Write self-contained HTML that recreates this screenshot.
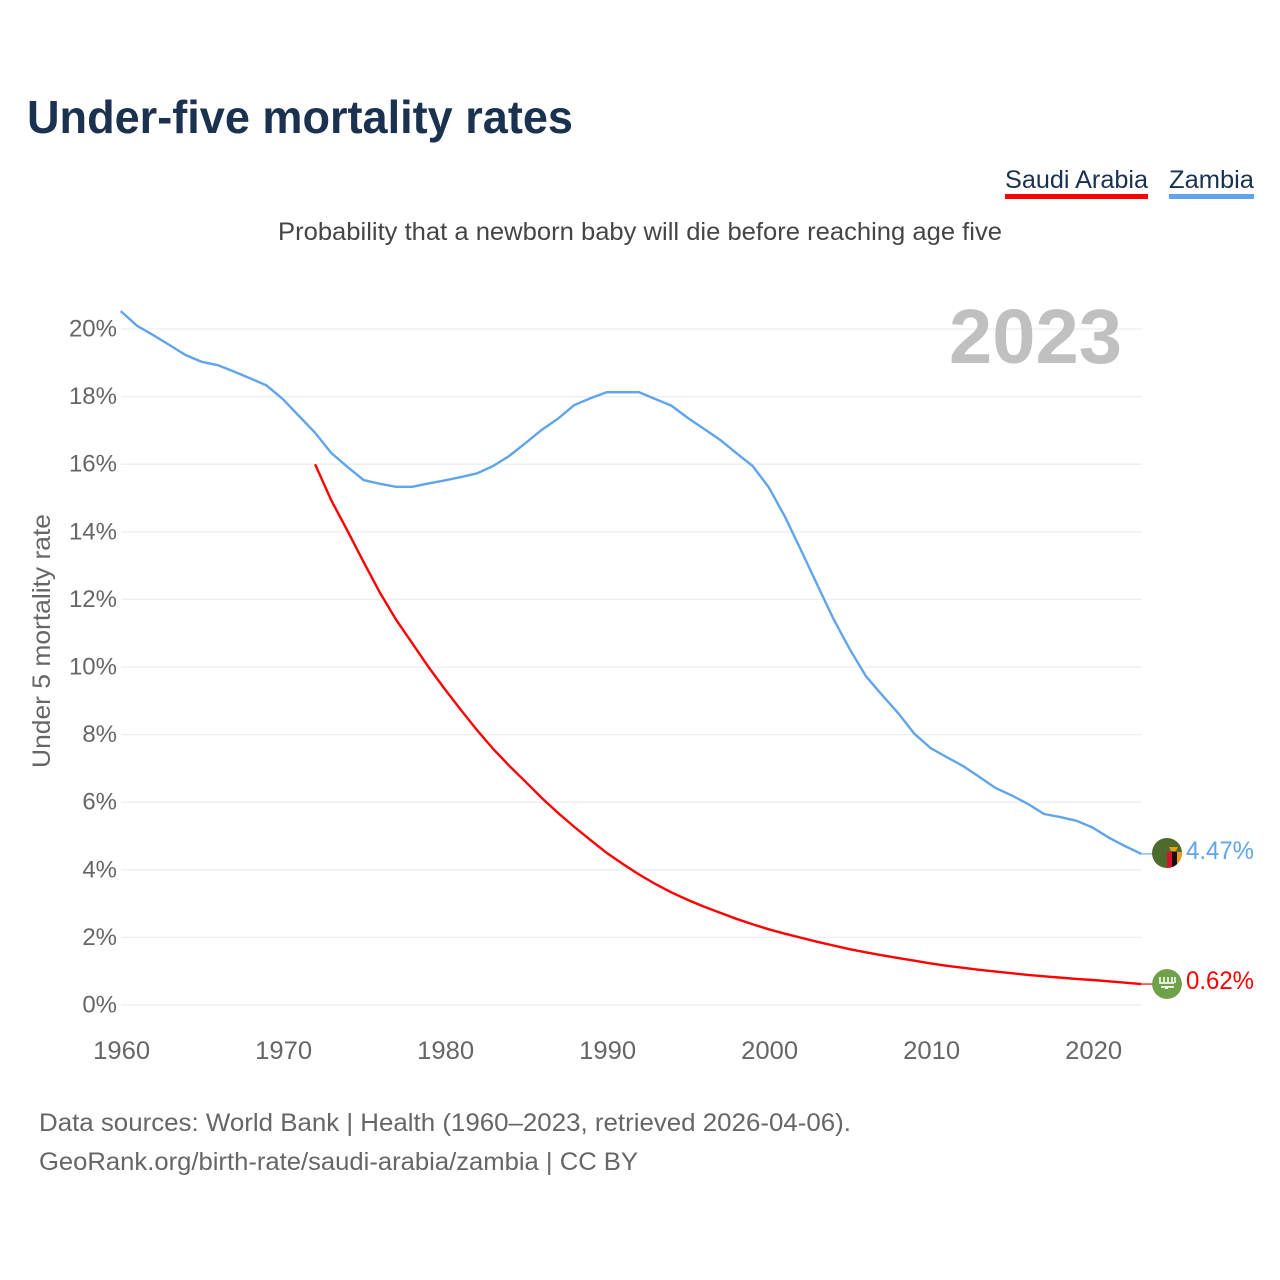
<!DOCTYPE html>
<html lang="en">
<head>
<meta charset="utf-8">
<title>Under-five mortality rates</title>
<style>
html,body{margin:0;padding:0;background:#fff;width:1280px;height:1280px;overflow:hidden}
svg{display:block}
text{font-family:"Liberation Sans",sans-serif}
</style>
</head>
<body>
<svg id="chart" width="1280" height="1280" viewBox="0 0 1280 1280" xmlns="http://www.w3.org/2000/svg">
  <rect width="1280" height="1280" fill="#fff"/>
  <text x="27" y="133" font-size="46" font-weight="700" fill="#1a3150" textLength="546" lengthAdjust="spacingAndGlyphs">Under-five mortality rates</text>

  <g>
    <text x="1005" y="188" font-size="25" fill="#1a3150" textLength="143" lengthAdjust="spacingAndGlyphs">Saudi Arabia</text>
    <rect x="1005" y="194" width="143" height="5" fill="#ff0000"/>
  </g>
  <g>
    <text x="1169" y="188" font-size="25" fill="#1a3150" textLength="85" lengthAdjust="spacingAndGlyphs">Zambia</text>
    <rect x="1169" y="194" width="85" height="5" fill="#60a5ec"/>
  </g>

  <text x="278" y="240" font-size="25" fill="#454545" textLength="724" lengthAdjust="spacingAndGlyphs">Probability that a newborn baby will die before reaching age five</text>
  <text transform="translate(50,768) rotate(-90)" x="0" y="0" font-size="25" fill="#666666" textLength="254" lengthAdjust="spacingAndGlyphs">Under 5 mortality rate</text>

  <g id="grid"></g>
  <g id="yticks"></g>
  <g id="xticks"></g>

  <text x="949" y="363" font-size="77" font-weight="700" fill="#c0c0c0" textLength="173" lengthAdjust="spacingAndGlyphs">2023</text>

  <g id="series"></g>

  <defs>
    <clipPath id="zambia-clip"><circle cx="1167" cy="853" r="15"/></clipPath>
    <clipPath id="saudi-clip"><circle cx="1167" cy="984" r="15"/></clipPath>
  </defs>

  <g clip-path="url(#zambia-clip)">
    <rect x="1152" y="838" width="30" height="30" fill="#4c6b2c"/>
    <rect x="1167" y="852" width="5" height="16" fill="#d8112e"/>
    <rect x="1172" y="852" width="5" height="16" fill="#111111"/>
    <rect x="1177" y="852" width="5" height="16" fill="#f19a1c"/>
    <path d="M1169 847h9l-2 4h-5z" fill="#f19a1c"/>
  </g>
  <g>
    <circle cx="1167" cy="984" r="15" fill="#6fa14a" clip-path="url(#saudi-clip)"/>
    <path d="M1160 977v6h14M1164 977v5M1168 977v5M1172 977v5M1175 977v6" fill="none" stroke="#f2f6ec" stroke-width="1.7"/>
    <rect x="1161" y="986" width="13" height="1.8" fill="#f2f6ec"/>
    <rect x="1165" y="986" width="3" height="3" fill="#f2f6ec"/>
  </g>

  <text x="1186" y="859" font-size="25" fill="#60a5ec" textLength="68" lengthAdjust="spacingAndGlyphs">4.47%</text>
  <text x="1186" y="989" font-size="25" fill="#ff0000" textLength="68" lengthAdjust="spacingAndGlyphs">0.62%</text>

  <text x="39" y="1131" font-size="25" fill="#666666" textLength="812" lengthAdjust="spacingAndGlyphs">Data sources: World Bank | Health (1960–2023, retrieved 2026-04-06).</text>
  <text x="39" y="1170" font-size="25" fill="#666666" textLength="599" lengthAdjust="spacingAndGlyphs">GeoRank.org/birth-rate/saudi-arabia/zambia | CC BY</text>
</svg>
<script>
const yTickValues = [0, 2, 4, 6, 8, 10, 12, 14, 16, 18, 20];
const xTickYears = [1960, 1970, 1980, 1990, 2000, 2010, 2020];
const zambiaStartYear = 1960;
const zambiaValues = [20.53, 20.1, 19.82, 19.53, 19.23, 19.03, 18.93, 18.74, 18.54, 18.33,
  17.93, 17.43, 16.93, 16.33, 15.92, 15.53, 15.42, 15.33, 15.33, 15.43,
  15.52, 15.62, 15.73, 15.95, 16.25, 16.63, 17.02, 17.35, 17.75, 17.95,
  18.13, 18.13, 18.13, 17.93, 17.73, 17.37, 17.05, 16.72, 16.33, 15.95,
  15.32, 14.45, 13.45, 12.43, 11.42, 10.53, 9.73, 9.17, 8.63, 8.02,
  7.6, 7.33, 7.07, 6.75, 6.42, 6.2, 5.95, 5.65, 5.56, 5.45,
  5.25, 4.95, 4.7, 4.47];
const saudiStartYear = 1972;
const saudiValues = [16.0, 14.93, 14.03, 13.1, 12.2, 11.4, 10.7, 10.0,
  9.35, 8.73, 8.13, 7.57, 7.07, 6.6, 6.12, 5.68, 5.27, 4.88,
  4.5, 4.17, 3.86, 3.58, 3.33, 3.11, 2.91, 2.73, 2.55, 2.39,
  2.24, 2.11, 1.99, 1.87, 1.76, 1.65, 1.56, 1.47, 1.39, 1.31,
  1.23, 1.16, 1.1, 1.04, 0.99, 0.94, 0.89, 0.85, 0.81, 0.77,
  0.74, 0.7, 0.66, 0.62];

const svgNS = 'http://www.w3.org/2000/svg';
function xScale(year) { return 120.7 + (year - 1960) * 16.2; }
function yScale(value) { return 1005 - value * 33.8; }
function linePath(startYear, values) {
  return values.map(function (v, i) {
    return (i ? 'L' : 'M') + xScale(startYear + i).toFixed(2) + ' ' + yScale(v).toFixed(2);
  }).join('');
}

const grid = document.getElementById('grid');
const yticks = document.getElementById('yticks');
const xticks = document.getElementById('xticks');
const series = document.getElementById('series');

yTickValues.forEach(function (v) {
  const line = document.createElementNS(svgNS, 'line');
  
  
  line.setAttribute('x1', 121);
  line.setAttribute('x2', 1141.6);
  line.setAttribute('y1', yScale(v));
  line.setAttribute('y2', yScale(v));
  line.setAttribute('stroke', '#eeeeee');
  line.setAttribute('stroke-width', 1.3);
  grid.appendChild(line);

  const label = document.createElementNS(svgNS, 'text');
  
  
  label.setAttribute('x', 117);
  label.setAttribute('y', yScale(v) + 7.5);
  label.setAttribute('text-anchor', 'end');
  label.setAttribute('font-size', 24);
  label.setAttribute('fill', '#666666');
  label.textContent = v + '%';
  yticks.appendChild(label);
});

xTickYears.forEach(function (year) {
  const label = document.createElementNS(svgNS, 'text');
  
  
  label.setAttribute('x', xScale(year) + 0.9);
  label.setAttribute('y', 1059);
  label.setAttribute('text-anchor', 'middle');
  label.setAttribute('font-size', 25);
  label.setAttribute('fill', '#666666');
  label.setAttribute('textLength', 57);
  label.setAttribute('lengthAdjust', 'spacingAndGlyphs');
  label.textContent = String(year);
  xticks.appendChild(label);
});

const zambiaLine = document.createElementNS(svgNS, 'path');


zambiaLine.setAttribute('d', linePath(zambiaStartYear, zambiaValues));
zambiaLine.setAttribute('fill', 'none');
zambiaLine.setAttribute('stroke', '#60a5ec');
zambiaLine.setAttribute('stroke-width', 2.4);
series.appendChild(zambiaLine);

const saudiLine = document.createElementNS(svgNS, 'path');


saudiLine.setAttribute('d', linePath(saudiStartYear, saudiValues));
saudiLine.setAttribute('fill', 'none');
saudiLine.setAttribute('stroke', '#ff0000');
saudiLine.setAttribute('stroke-width', 2.4);
series.appendChild(saudiLine);

const zambiaConnector = document.createElementNS(svgNS, 'line');


zambiaConnector.setAttribute('x1', xScale(2023));
zambiaConnector.setAttribute('x2', 1153);
zambiaConnector.setAttribute('y1', yScale(zambiaValues[zambiaValues.length - 1]));
zambiaConnector.setAttribute('y2', yScale(zambiaValues[zambiaValues.length - 1]));
zambiaConnector.setAttribute('stroke', '#60a5ec');
zambiaConnector.setAttribute('stroke-width', 1.2);
series.appendChild(zambiaConnector);

const saudiConnector = document.createElementNS(svgNS, 'line');


saudiConnector.setAttribute('x1', xScale(2023));
saudiConnector.setAttribute('x2', 1153);
saudiConnector.setAttribute('y1', yScale(saudiValues[saudiValues.length - 1]));
saudiConnector.setAttribute('y2', yScale(saudiValues[saudiValues.length - 1]));
saudiConnector.setAttribute('stroke', '#ff0000');
saudiConnector.setAttribute('stroke-width', 1.2);
series.appendChild(saudiConnector);
</script>
</body>
</html>
